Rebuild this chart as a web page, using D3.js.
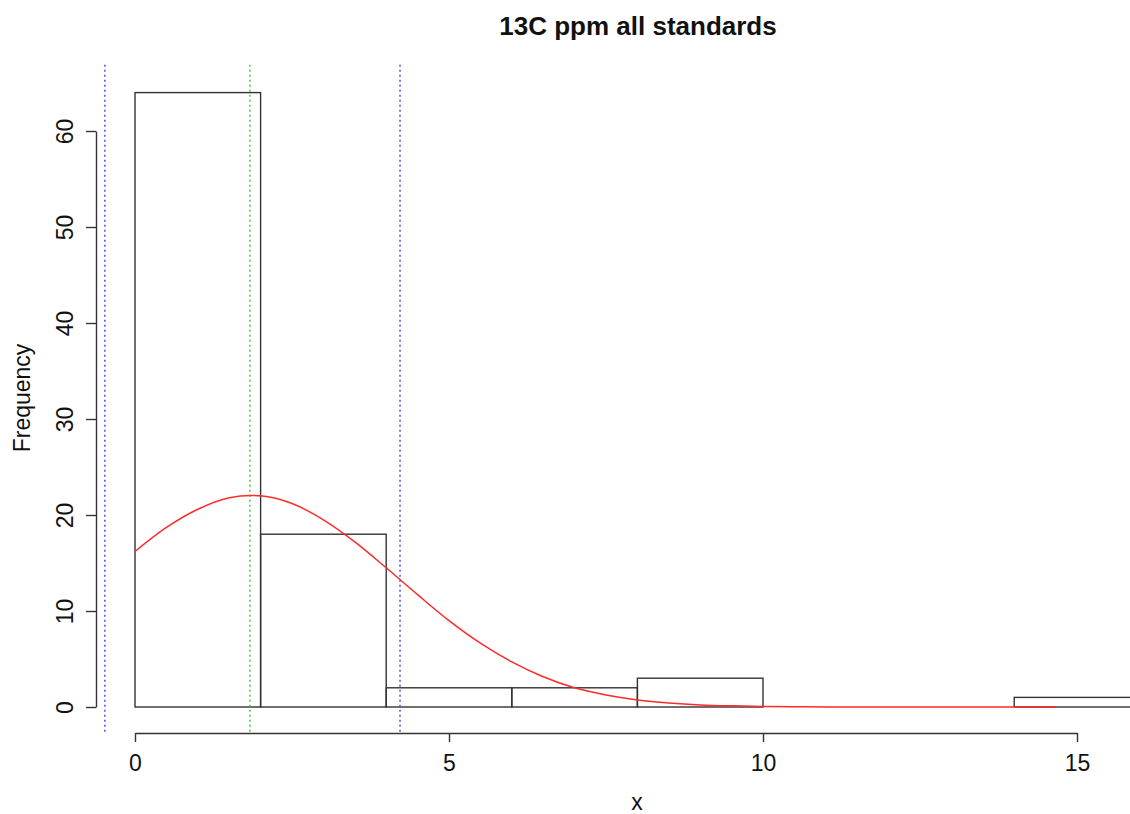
<!DOCTYPE html>
<html>
<head>
<meta charset="utf-8">
<script src="https://cdn.jsdelivr.net/npm/d3@7"></script>
<style>
  body { margin: 0; background: #fff; }
  svg { font-family: "Liberation Sans", Arial, Helvetica, sans-serif; }
</style>
</head>
<body>
<svg id="chart" width="1130" height="814"></svg>
<script>
// histogram bins (left edge, right edge) and counts
var binEdges = [0, 2, 4, 6, 8, 10, 12, 14, 16];
var binCounts = [64, 18, 2, 2, 3, 0, 0, 1];

// normal curve
var curveX = [0, 0.5, 1, 1.5, 2, 2.5, 3, 3.5, 4, 4.5, 5, 5.5, 6, 6.5, 7, 7.5, 8, 8.5, 9, 9.5, 10, 10.5, 11, 12, 13, 14, 14.65];
var curveY = [16.2, 18.7, 20.6, 21.8, 22.0, 21.2, 19.5, 17.2, 14.5, 11.7, 9.0, 6.65, 4.7, 3.15, 2.0, 1.25, 0.74, 0.42, 0.22, 0.12, 0.06, 0.03, 0.01, 0, 0, 0, 0];

// reference lines: mean and mean +/- sd
var meanLine = 1.83;
var sdLines = [-0.48, 4.22];

var xTicks = [0, 5, 10, 15];
var yTicks = [0, 10, 20, 30, 40, 50, 60];

var svg = d3.select("#chart");

var x = d3.scaleLinear().domain([0, 15]).range([135, 1077]);
var y = d3.scaleLinear().domain([0, 60]).range([707, 131]);

// bars
var bins = binCounts.map(function(c, i) {
  return { x0: binEdges[i], x1: binEdges[i + 1], n: c };
});

svg.append("g").selectAll("rect")
  .data(bins)
  .enter()
  .append("rect")
  .attr("x", function(d) { return x(d.x0); })
  .attr("y", function(d) { return y(d.n); })
  .attr("width", function(d) { return x(d.x1) - x(d.x0); })
  .attr("height", function(d) { return y(0) - y(d.n); })
  .attr("fill", "none")
  .attr("stroke", "#333")
  .attr("stroke-width", 1.4);

// vertical dotted lines
var yTop = y(66.9), yBot = y(-2.6);

svg.append("g").selectAll("line")
  .data(sdLines)
  .enter()
  .append("line")
  .attr("x1", function(d) { return x(d); })
  .attr("x2", function(d) { return x(d); })
  .attr("y1", yTop)
  .attr("y2", yBot)
  .attr("stroke", "#4d4dff")
  .attr("stroke-width", 1.5)
  .attr("stroke-dasharray", "2,3");

svg.append("line")
  .attr("x1", x(meanLine))
  .attr("x2", x(meanLine))
  .attr("y1", yTop)
  .attr("y2", yBot)
  .attr("stroke", "#3fcc3f")
  .attr("stroke-width", 1.5)
  .attr("stroke-dasharray", "2,3");

// red curve
var pts = curveX.map(function(v, i) { return [v, curveY[i]]; });
var line = d3.line()
  .x(function(d) { return x(d[0]); })
  .y(function(d) { return y(d[1]); })
  .curve(d3.curveCatmullRom);

svg.append("path")
  .datum(pts)
  .attr("d", line)
  .attr("fill", "none")
  .attr("stroke", "#ff2a2a")
  .attr("stroke-width", 1.5);

// axes
var xAxis = svg.append("g")
  .attr("transform", "translate(0,733)")
  .call(d3.axisBottom(x).tickValues(xTicks).tickSize(9).tickSizeOuter(0).tickFormat(d3.format("d")));

xAxis.selectAll("text")
  .attr("y", 38)
  .attr("dy", null)
  .attr("fill", "#111")
  .style("font-size", "23px");

var yAxis = svg.append("g")
  .attr("transform", "translate(96,0)")
  .call(d3.axisLeft(y).tickValues(yTicks).tickSize(10).tickSizeOuter(0).tickFormat(d3.format("d")));

yAxis.selectAll("text")
  .attr("x", null)
  .attr("dy", null)
  .attr("text-anchor", "middle")
  .attr("transform", "translate(-23,0) rotate(-90)")
  .attr("fill", "#111")
  .style("font-size", "23px");

svg.selectAll(".domain, .tick line")
  .attr("stroke", "#333")
  .attr("stroke-width", 1.4);

// title and labels
svg.append("text")
  .attr("x", 638)
  .attr("y", 35)
  .attr("text-anchor", "middle")
  .style("font-size", "26px")
  .style("font-weight", "bold")
  .attr("fill", "#111")
  .text("13C ppm all standards");

svg.append("text")
  .attr("x", 637)
  .attr("y", 810)
  .attr("text-anchor", "middle")
  .style("font-size", "23px")
  .attr("fill", "#111")
  .text("x");

svg.append("text")
  .attr("transform", "translate(30,398) rotate(-90)")
  .attr("text-anchor", "middle")
  .style("font-size", "23px")
  .attr("fill", "#111")
  .text("Frequency");
</script>
</body>
</html>
